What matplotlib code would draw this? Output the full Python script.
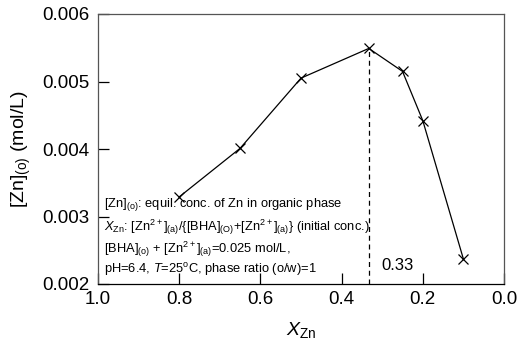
import matplotlib
matplotlib.use("Agg")
import matplotlib.pyplot as plt

plt.rcParams['font.family'] = ['Liberation Sans', 'DejaVu Sans']
plt.rcParams['mathtext.fontset'] = 'custom'
plt.rcParams['mathtext.rm'] = 'Liberation Sans'
plt.rcParams['mathtext.it'] = 'Liberation Sans:italic'
plt.rcParams['mathtext.default'] = 'regular'

# Data
x_zn = [0.8, 0.65, 0.5, 0.333, 0.25, 0.2, 0.1]
zn_org = [0.00329, 0.00401, 0.00505, 0.00549, 0.00515, 0.00442, 0.00237]
peak_x = 0.333
peak_label = "0.33"
x_ticks = [1.0, 0.8, 0.6, 0.4, 0.2, 0.0]
y_ticks = [0.002, 0.003, 0.004, 0.005, 0.006]

fig = plt.figure(figsize=(5.18, 3.44), dpi=100)
ax = fig.add_axes([98/518, 1-284/344, (504-98)/518, (284-14)/344])

ax.plot(x_zn, zn_org, color='black', lw=0.9, marker='x', markersize=7,
        markeredgewidth=0.9)
peak_y = zn_org[x_zn.index(peak_x)]
ax.plot([peak_x, peak_x], [0.002, peak_y], color='black', lw=0.9,
        linestyle=(0, (4, 3)))
ax.text(0.263, 0.00227, peak_label, fontsize=12, ha='center', va='center')

ax.set_xlim(1.0, 0.0)
ax.set_ylim(0.002, 0.006)
ax.set_xticks(x_ticks)
ax.set_xticklabels([f"{v:.1f}" for v in x_ticks])
ax.set_yticks(y_ticks)
ax.set_yticklabels([f"{v:.3f}" for v in y_ticks])
ax.tick_params(direction='in', length=8, width=0.9, labelsize=13.5,
               colors='black')
ax.tick_params(axis='x', pad=5)
ax.tick_params(axis='y', pad=6)
for s in ax.spines.values():
    s.set_linewidth(0.9)
for s in ['left', 'top', 'right']:
    ax.spines[s].set_color('#555555')

ax.set_xlabel(r'$\mathit{X}_{\mathrm{Zn}}$', fontsize=14, labelpad=9)
ax.set_ylabel(r'[Zn]$_{\mathrm{(o)}}$ (mol/L)', fontsize=14, labelpad=7)

lines = [
    r'[Zn]$_{\mathrm{(o)}}$: equil. conc. of Zn in organic phase',
    r'$\mathit{X}_{\mathrm{Zn}}$: [Zn$^{2+}$]$_{\mathrm{(a)}}$/{[BHA]$_{\mathrm{(O)}}$+[Zn$^{2+}$]$_{\mathrm{(a)}}$} (initial conc.)',
    r'[BHA]$_{\mathrm{(o)}}$ + [Zn$^{2+}$]$_{\mathrm{(a)}}$=0.025 mol/L,',
    r'pH=6.4, $\mathit{T}$=25$^{\mathrm{o}}$C, phase ratio (o/w)=1',
]
ys = [205, 227, 249, 270]
for t, yp in zip(lines, ys):
    fig.text(104/518, 1-yp/344, t, fontsize=9.3, ha='left', va='center')

fig.savefig('out.png', dpi=100)
